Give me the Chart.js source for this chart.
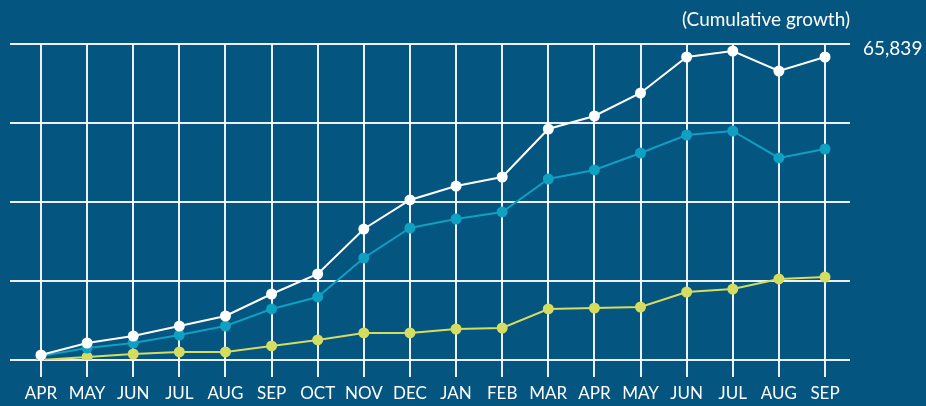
<!DOCTYPE html>
<html>
<head>
<meta charset="utf-8">
<script src="https://cdn.jsdelivr.net/npm/chart.js@4/dist/chart.umd.min.js"></script>
<style>
  html, body { margin: 0; padding: 0; background: #04557f; }
  #wrap { width: 926px; height: 406px; }
</style>
</head>
<body>
<div id="wrap"><canvas id="growthChart" width="926" height="406"></canvas></div>
<script>
const months = ['APR', 'MAY', 'JUN', 'JUL', 'AUG', 'SEP', 'OCT', 'NOV', 'DEC',
  'JAN', 'FEB', 'MAR', 'APR', 'MAY', 'JUN', 'JUL', 'AUG', 'SEP'];

const totalGrowth = [1040, 3540, 5000, 7080, 9170, 13750, 17920, 27290, 33340,
  36250, 38130, 48130, 50840, 55630, 63130, 64380, 60210, 63130];
const midGrowth = [830, 2500, 3540, 5210, 7080, 10630, 13130, 21250, 27500,
  29380, 30840, 37710, 39590, 43130, 46880, 47710, 42090, 43960];
const lowGrowth = [0, 630, 1250, 1670, 1670, 2920, 4170, 5630, 5630,
  6460, 6670, 10630, 10830, 11040, 14170, 14790, 16880, 17290];

const yMax = 65839;
const yTicks = [0, yMax / 4, yMax / 2, yMax * 3 / 4, yMax];

const toPoints = arr => arr.map((v, i) => ({ x: i, y: v }));

const captionPlugin = {
  id: 'caption',
  afterDraw(chart) {
    const ctx = chart.ctx;
    ctx.save();
    ctx.fillStyle = '#ffffff';
    ctx.font = '19px Lato';
    ctx.textAlign = 'right';
    ctx.textBaseline = 'middle';
    ctx.fillText('(Cumulative growth)', chart.chartArea.right, 20);
    ctx.restore();
  }
};

function lineSet(data, color, r) {
  return {
    data: toPoints(data),
    borderColor: color,
    backgroundColor: color,
    pointBackgroundColor: color,
    pointBorderWidth: 0,
    borderWidth: 2,
    pointRadius: r,
    tension: 0,
    fill: false
  };
}

const gridColor = 'rgba(255,255,255,0.92)';

new Chart(document.getElementById('growthChart').getContext('2d'), {
  type: 'line',
  data: {
    datasets: [
      lineSet(totalGrowth, '#ffffff', 5.5),
      lineSet(midGrowth, '#0fa0c2', 5.5),
      lineSet(lowGrowth, '#d5dc60', 5.5)
    ]
  },
  options: {
    responsive: false,
    animation: false,
    layout: { padding: { left: 10, top: 44, right: 0, bottom: 0 } },
    plugins: {
      legend: { display: false },
      tooltip: { enabled: false }
    },
    scales: {
      x: {
        type: 'linear',
        min: -0.672,
        max: 17.542,
        afterBuildTicks: s => { s.ticks = months.map((_, i) => ({ value: i })); },
        afterFit: s => { s.height = 46; },
        border: { display: false },
        grid: { color: gridColor, lineWidth: 2, tickLength: 17, tickColor: gridColor },
        ticks: {
          autoSkip: false,
          maxRotation: 0,
          padding: 6,
          color: '#ffffff',
          font: { family: 'Lato', size: 17 },
          callback: v => months[v]
        }
      },
      y: {
        position: 'right',
        min: 0,
        max: yMax,
        afterBuildTicks: s => { s.ticks = yTicks.map(v => ({ value: v })); },
        afterFit: s => { s.width = 76; },
        border: { display: false },
        grid: { color: gridColor, lineWidth: 2, drawTicks: false },
        ticks: {
          padding: 13,
          labelOffset: 5,
          color: '#ffffff',
          font: { family: 'Lato', size: 19 },
          callback: v => (v === yMax ? yMax.toLocaleString('en-US') : '')
        }
      }
    }
  },
  plugins: [captionPlugin]
});
</script>
</body>
</html>
